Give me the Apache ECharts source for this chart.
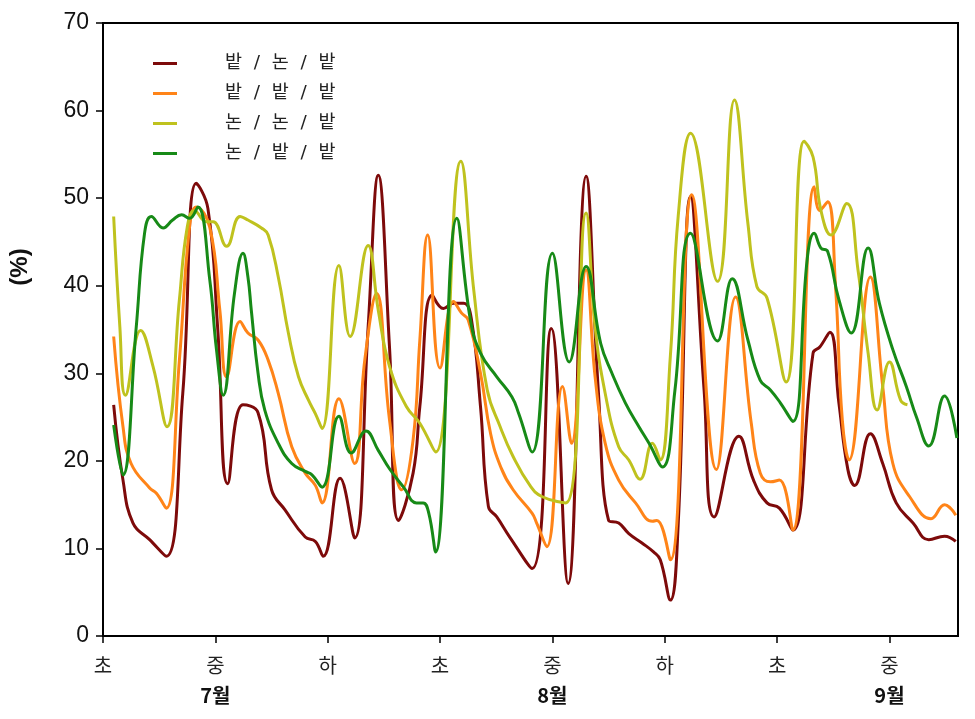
<!DOCTYPE html>
<html>
<head>
<meta charset="utf-8">
<script src="https://cdn.jsdelivr.net/npm/echarts@6/dist/echarts.min.js"></script>
<style>
html,body{margin:0;padding:0;background:#fff;}
#chart{width:975px;height:719px;}
</style>
</head>
<body>
<div id="chart"></div>
<script>
// ---- Data (x = day position from the first 초 tick, y = %) ----
const seriesNames = ['밭 / 논 / 밭', '밭 / 밭 / 밭', '논 / 논 / 밭', '논 / 밭 / 밭'];
const seriesColors = ['#7d0a0a', '#ff8418', '#bfc21e', '#178a17'];

const dayA = [0.95,1.78,2.67,4.15,5.63,7.1,8.3,9.34,10.2,11.1,12.46,13.8,15.0,16.2,18.0,18.9,19.6,21.1,22.4,23.6,24.5,25.5,26.3,27.6,28.2,29.3,30.3,31.2,32.1,32.8,33.6,34.3,35.05,36.2,38.2,39.9,41.4,43.0,44.1,45.0,45.9,46.8,48.0,49.0,49.6,50.5,51.2,52.3,53.5,54.4,56.6,57.9,59.1,60.2,61.4,63.2,63.8,64.7,65.5,66.3,66.9,68.3,69.4,70.6,72.1,73.5,74.9,75.9];
const valA = [26.4,17.8,12.9,11.0,9.1,27.7,51.7,48.8,35.3,17.4,26.4,25.5,16.7,14.4,11.3,10.8,9.1,18.0,11.2,35.3,52.6,33.0,13.2,18.6,26.2,38.9,37.4,38.0,38.0,36.1,26.2,14.8,13.6,11.3,7.7,35.1,6.0,52.5,27.7,13.2,12.9,11.7,10.6,9.6,8.7,4.1,12.9,50.2,28.1,13.6,22.8,17.8,15.2,14.6,12.1,32.3,33.0,34.7,26.6,19.0,17.2,23.1,19.7,15.2,12.9,11.0,11.4,10.8];

const dayB = [0.95,1.78,2.5,4.15,4.75,5.63,6.8,7.7,8.3,9.5,10.4,11.0,12.2,12.9,13.8,14.7,15.6,16.8,18.0,18.9,19.5,21.0,22.4,23.3,24.35,25.5,26.6,27.6,28.2,28.9,30.0,31.2,31.9,32.5,33.6,34.5,35.4,36.5,38.2,38.6,39.5,40.9,41.7,43.0,43.8,44.7,45.9,47.4,48.9,49.3,50.5,52.4,54.6,56.3,57.7,58.5,59.4,60.2,61.4,63.3,63.8,64.5,65.2,65.8,66.4,68.3,69.4,70.3,71.8,73.7,74.9,75.9];
const valB = [34.2,23.9,19.7,16.9,16.3,14.6,31.5,46.7,49.0,46.7,37.2,29.6,35.9,34.6,33.8,31.5,27.7,21.6,18.6,17.2,15.2,27.1,19.7,31.5,39.1,24.7,16.7,22.4,33.8,45.8,30.6,38.2,36.9,36.1,30.0,23.1,19.3,16.7,14.0,12.9,10.2,28.5,22.0,41.8,29.6,22.0,17.8,15.2,13.1,13.2,8.7,50.4,19.0,38.7,24.3,18.6,17.6,17.8,12.1,51.3,48.6,49.6,39.9,24.7,20.1,41.0,28.5,19.7,15.9,13.4,15.0,13.8];

const dayC = [0.95,1.5,2.0,3.35,4.45,5.7,6.8,7.5,8.15,9.2,9.8,11.0,12.2,12.9,14.1,14.7,15.6,16.5,17.4,18.3,18.9,19.5,21.0,22.0,23.6,24.5,25.5,27.0,28.2,29.6,31.85,33.0,34.2,35.35,36.5,38.0,39.1,41.2,43.0,43.8,44.7,45.9,46.8,47.8,48.9,49.6,50.5,51.2,52.3,54.7,56.2,57.4,58.2,59.1,60.8,62.4,63.2,63.9,64.8,66.2,67.2,68.1,68.9,70.0,71.0,71.6];
const valC = [47.9,35.3,27.5,34.9,30.8,23.9,38.4,46.7,48.6,47.3,47.3,44.5,47.9,47.5,46.6,45.8,41.0,34.6,29.6,26.9,25.4,23.7,42.3,34.2,44.6,37.2,30.8,26.2,24.3,21.0,54.2,39.5,28.1,23.9,20.5,17.2,15.9,15.2,48.3,35.3,27.7,21.6,20.1,17.9,22.0,20.1,32.0,48.0,57.4,40.5,61.2,47.1,39.9,38.6,29.0,56.5,54.7,48.6,45.8,49.4,41.8,32.3,25.8,31.3,26.9,26.4];

const dayD = [0.95,1.78,2.96,3.7,4.3,5.35,6.2,7.0,7.7,8.45,9.5,10.1,10.7,11.7,12.46,12.9,13.2,13.8,14.4,15.6,16.8,18.0,18.6,19.5,21.0,22.1,23.4,24.5,25.5,26.75,27.9,28.5,29.0,29.6,31.5,32.7,33.6,35.05,36.4,37.0,38.2,40.0,41.5,43.0,44.3,45.3,46.5,47.7,48.6,49.8,50.9,52.3,54.7,56.0,57.4,58.5,59.4,60.3,61.4,62.7,63.3,63.9,64.5,65.5,66.6,68.1,69.1,70.3,71.5,72.4,73.5,74.9,76.0];
const valD = [24.1,18.4,35.3,46.0,47.9,46.6,47.5,48.1,47.7,49.0,40.7,32.7,27.5,39.1,43.7,41.0,37.2,30.0,25.8,22.0,19.7,18.8,18.4,17.0,25.1,20.9,23.4,21.2,19.1,17.0,15.2,15.2,14.0,9.6,47.7,36.1,32.3,29.6,27.3,25.4,21.0,43.7,31.3,42.2,33.4,30.0,26.6,23.9,22.0,19.3,28.0,46.0,33.7,40.8,33.8,29.2,28.1,26.6,24.5,43.3,46.0,44.3,43.9,38.4,34.6,44.3,38.0,32.7,28.5,25.0,21.7,27.4,22.6];

const dekadTicks = [0,10,20,30,40,50,60,70];
const dekadLabels = ['초','중','하','초','중','하','초','중'];
const monthLabels = ['', '7월', '', '', '8월', '', '', '9월'];

const days = [dayA, dayB, dayC, dayD];
const vals = [valA, valB, valC, valD];

const chart = echarts.init(document.getElementById('chart'), null, {renderer: 'canvas'});
const KR = '"Noto Sans CJK KR", "Liberation Sans", sans-serif';
const LEG = '"DejaVu Sans", "Noto Sans CJK KR", sans-serif';

const option = {
  animation: false,
  backgroundColor: '#fff',
  grid: {left: 103, right: 17, top: 23, bottom: 83, show: true, borderColor: '#000', borderWidth: 2, containLabel: false},
  legend: {
    orient: 'vertical', left: 148, top: 48,
    itemWidth: 24, itemHeight: 3, itemGap: 9, icon: 'rect',
    formatter: function (name) { return name.split(' / ').join('  /  '); },
    textStyle: {fontFamily: LEG, fontSize: 18.5, color: '#222', lineHeight: 21, padding: [0, 0, 0, 43]},
    data: seriesNames
  },
  xAxis: {
    type: 'value', min: 0, max: 76.1,
    splitLine: {show: false},
    axisLine: {show: true, onZero: false, lineStyle: {color: '#000', width: 2}},
    axisTick: {show: true, inside: false, length: 7, lineStyle: {color: '#000', width: 1.5}, customValues: dekadTicks},
    axisLabel: {
      customValues: dekadTicks, margin: 17,
      fontFamily: KR, fontSize: 20, color: '#222', lineHeight: 24,
      formatter: function (v) {
        const i = Math.round(v / 10);
        const m = monthLabels[i];
        return m ? dekadLabels[i] + '\n{m|' + m + '}' : dekadLabels[i];
      },
      rich: {m: {fontFamily: KR, fontSize: 20, fontWeight: 'bold', color: '#111', lineHeight: 36}}
    }
  },
  yAxis: {
    type: 'value', min: 0, max: 70, interval: 10,
    splitLine: {show: false},
    axisLine: {show: true, lineStyle: {color: '#000', width: 2}},
    axisTick: {show: true, inside: false, length: 7, lineStyle: {color: '#000', width: 1.5}},
    axisLabel: {fontFamily: '"Liberation Sans", Arial, sans-serif', fontSize: 23, color: '#111', margin: 14}
  },
  graphic: [{
    type: 'text', x: 20, y: 267, rotation: Math.PI / 2,
    style: {text: '(%)', font: 'bold 24px "Liberation Sans", Arial, sans-serif', fill: '#111', align: 'center', verticalAlign: 'middle'}
  }],
  series: seriesNames.map(function (name, k) {
    return {
      name: name, type: 'line', smooth: 0.45, symbol: 'none',
      lineStyle: {color: seriesColors[k], width: 3},
      itemStyle: {color: seriesColors[k]},
      data: days[k].map(function (d, i) { return [d, vals[k][i]]; })
    };
  })
};
chart.setOption(option);
</script>
</body>
</html>
